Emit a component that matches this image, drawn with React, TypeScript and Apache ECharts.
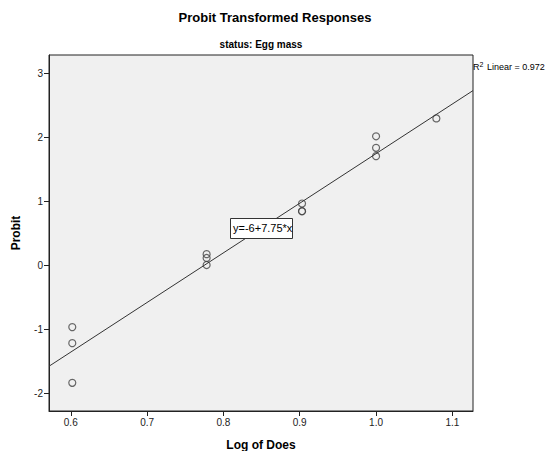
import React, { useEffect, useRef } from "react";
import * as echarts from "echarts";

const logDose: number[] = [0.602, 0.602, 0.602, 0.778, 0.778, 0.778, 0.903, 0.903, 0.903, 1.0, 1.0, 1.0, 1.079];
const probit: number[] = [-0.96, -1.21, -1.83, 0.18, 0.12, 0.01, 0.97, 0.85, 0.85, 2.02, 1.84, 1.71, 2.3];
const intercept = -6;
const slope = 7.75;
const r2 = "0.972";
const xTicks: number[] = [0.6, 0.7, 0.8, 0.9, 1.0, 1.1];
const yTicks: number[] = [-2, -1, 0, 1, 2, 3];
const xRange: number[] = [0.5715, 1.127];
const yRange: number[] = [-2.27, 3.29];

export default function App() {
  const ref = useRef<HTMLDivElement>(null);
  useEffect(() => {
    if (!ref.current) return;
    const chart = echarts.init(ref.current, null, { renderer: "svg" });
    const font = "'Liberation Sans', Arial, sans-serif";
    const fitLine = xRange.map((x) => [x, intercept + slope * x]);
    chart.setOption({
      animation: false,
      textStyle: { fontFamily: font },
      title: [
        {
          text: "Probit Transformed Responses",
          left: "center",
          top: 11,
          padding: 0,
          textStyle: { fontFamily: font, fontSize: 13, fontWeight: "bold", color: "#000" },
        },
        {
          text: "status: Egg mass",
          left: 261,
          textAlign: "center",
          top: 39,
          padding: 0,
          textStyle: { fontFamily: font, fontSize: 10, fontWeight: "bold", color: "#000" },
        },
      ],
      grid: {
        left: 49,
        right: 77,
        top: 55,
        bottom: 40,
        containLabel: false,
        outerBoundsMode: "none",
        show: true,
        backgroundColor: "#f0f0f0",
        borderColor: "#222",
        borderWidth: 1,
      },
      xAxis: {
        type: "value",
        min: xRange[0],
        max: xRange[1],
        name: "Log of Does",
        nameLocation: "middle",
        nameGap: 28,
        nameTextStyle: { fontFamily: font, fontSize: 12, fontWeight: "bold", color: "#000" },
        splitLine: { show: false },
        axisLine: { show: true, onZero: false, lineStyle: { color: "#222" } },
        axisTick: { show: true, length: 5, customValues: xTicks, lineStyle: { color: "#222" } },
        axisLabel: {
          customValues: xTicks,
          formatter: (v: number) => v.toFixed(1),
          fontSize: 10,
          color: "#222",
          margin: 6,
        },
      },
      yAxis: {
        type: "value",
        min: yRange[0],
        max: yRange[1],
        name: "Probit",
        nameLocation: "middle",
        nameGap: 27,
        nameRotate: 90,
        nameTextStyle: { fontFamily: font, fontSize: 12, fontWeight: "bold", color: "#000" },
        splitLine: { show: false },
        axisLine: { show: true, onZero: false, lineStyle: { color: "#222" } },
        axisTick: { show: true, length: 5, customValues: yTicks, lineStyle: { color: "#222" } },
        axisLabel: {
          customValues: yTicks,
          formatter: (v: number) => String(v),
          fontSize: 10,
          color: "#222",
          margin: 6,
        },
      },
      series: [
        {
          type: "line",
          data: fitLine,
          symbol: "none",
          lineStyle: { color: "#333", width: 1 },
          silent: true,
        },
        {
          type: "scatter",
          data: logDose.map((x, i) => [x, probit[i]]),
          symbol: "circle",
          symbolSize: 7,
          itemStyle: { color: "transparent", borderColor: "#444", borderWidth: 1.2 },
        },
      ],
      graphic: [
        {
          type: "rect",
          left: 230,
          top: 218,
          z: 100,
          shape: { width: 62, height: 20 },
          style: { fill: "#fff", stroke: "#333", lineWidth: 1 },
        },
        {
          type: "text",
          left: 233,
          top: 222,
          z: 101,
          style: { text: "y=-6+7.75*x", font: `11px ${font}`, fill: "#000" },
        },
        {
          type: "text",
          left: 473,
          top: 61,
          z: 100,
          style: {
            text: "{a|R}{s|2}{a| Linear = " + r2 + "}",
            rich: {
              a: { fontFamily: font, fontSize: 9, fill: "#000", color: "#000" },
              s: { fontFamily: font, fontSize: 7, fill: "#000", color: "#000", verticalAlign: "top", padding: [0, 1, 4, 0] },
            },
          },
        },
      ],
    });
    return () => chart.dispose();
  }, []);
  return <div ref={ref} style={{ width: 550, height: 451, position: "absolute", left: 0, top: 0 }} />;
}
